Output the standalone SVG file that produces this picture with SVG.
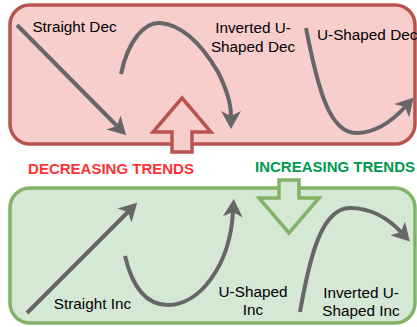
<svg xmlns="http://www.w3.org/2000/svg" width="417" height="327" viewBox="0 0 417 327">
  <style>
    .lbl { font-family: "Liberation Sans", Arial, sans-serif; font-size: 15.3px; fill: #000; }
    .mid { text-anchor: middle; }
    .title { font-family: "Liberation Sans", Arial, sans-serif; font-size: 15px; font-weight: bold; }
    .curve { fill: none; stroke: #666666; stroke-width: 4; marker-end: url(#ah); }
    .redbox { fill: #f8cecc; stroke: #b85450; stroke-width: 3.5; }
    .greenbox { fill: #d5e8d4; stroke: #82b366; stroke-width: 3.5; }
  </style>
  <defs>
    <marker id="ah" viewBox="0 0 18 20" refX="5" refY="10" markerWidth="18" markerHeight="20" markerUnits="userSpaceOnUse" orient="auto">
      <path d="M0,0 L18,10 L0,20 L5,10 Z" fill="#666666"/>
    </marker>
  </defs>

  <g id="decreasing-box">
    <rect class="redbox" x="10" y="5" width="405" height="139" rx="20" ry="20"/>
  </g>
  <g id="increasing-box">
    <rect class="greenbox" x="10" y="188" width="405" height="135" rx="20" ry="20"/>
  </g>

  <g id="connectors">
    <path class="curve" d="M17,25 L117,126"/>
    <path class="curve" d="M121,74 C128,40 145,22 160,23 C185,25 205,50 218,72 C226,88 231,105 231,116"/>
    <path class="curve" d="M306,28 C318,90 330,135 358,133 C378,132 395,118 405,107"/>
    <path class="curve" d="M27,313 L128,212"/>
    <path class="curve" d="M125,256 C133,290 148,305 168,305 C200,305 230,265 233,212"/>
    <path class="curve" d="M300,312 C310,255 322,208 350,208 C370,208 388,218 401,232"/>
  </g>

  <g id="up-arrow">
    <polygon points="182,98 211,132 192,132 192,152 172,152 172,132 153,132" fill="#f8cecc" stroke="#b85450" stroke-width="3.5"/>
  </g>
  <g id="down-arrow">
    <polygon points="279,180 299,180 299,198 319,198 289,233 259,198 279,198" fill="#d5e8d4" stroke="#82b366" stroke-width="3.5"/>
  </g>

  <g id="label-straight-dec"><text class="lbl mid" x="74.5" y="32">Straight Dec</text></g>
  <g id="label-inv-u-dec"><text class="lbl mid" x="253" y="33">Inverted U-</text><text class="lbl mid" x="253" y="52">Shaped Dec</text></g>
  <g id="label-u-dec"><text class="lbl" x="317" y="40">U-Shaped Dec</text></g>
  <g id="label-decreasing"><text class="title mid" x="111" y="174" fill="#ff3333">DECREASING TRENDS</text></g>
  <g id="label-increasing"><text class="title" x="255" y="172" fill="#00994d">INCREASING TRENDS</text></g>
  <g id="label-straight-inc"><text class="lbl mid" x="92.5" y="309">Straight Inc</text></g>
  <g id="label-u-inc"><text class="lbl mid" x="253" y="297">U-Shaped</text><text class="lbl mid" x="253" y="315">Inc</text></g>
  <g id="label-inv-u-inc"><text class="lbl mid" x="361" y="298">Inverted U-</text><text class="lbl mid" x="361" y="316">Shaped Inc</text></g>
</svg>
